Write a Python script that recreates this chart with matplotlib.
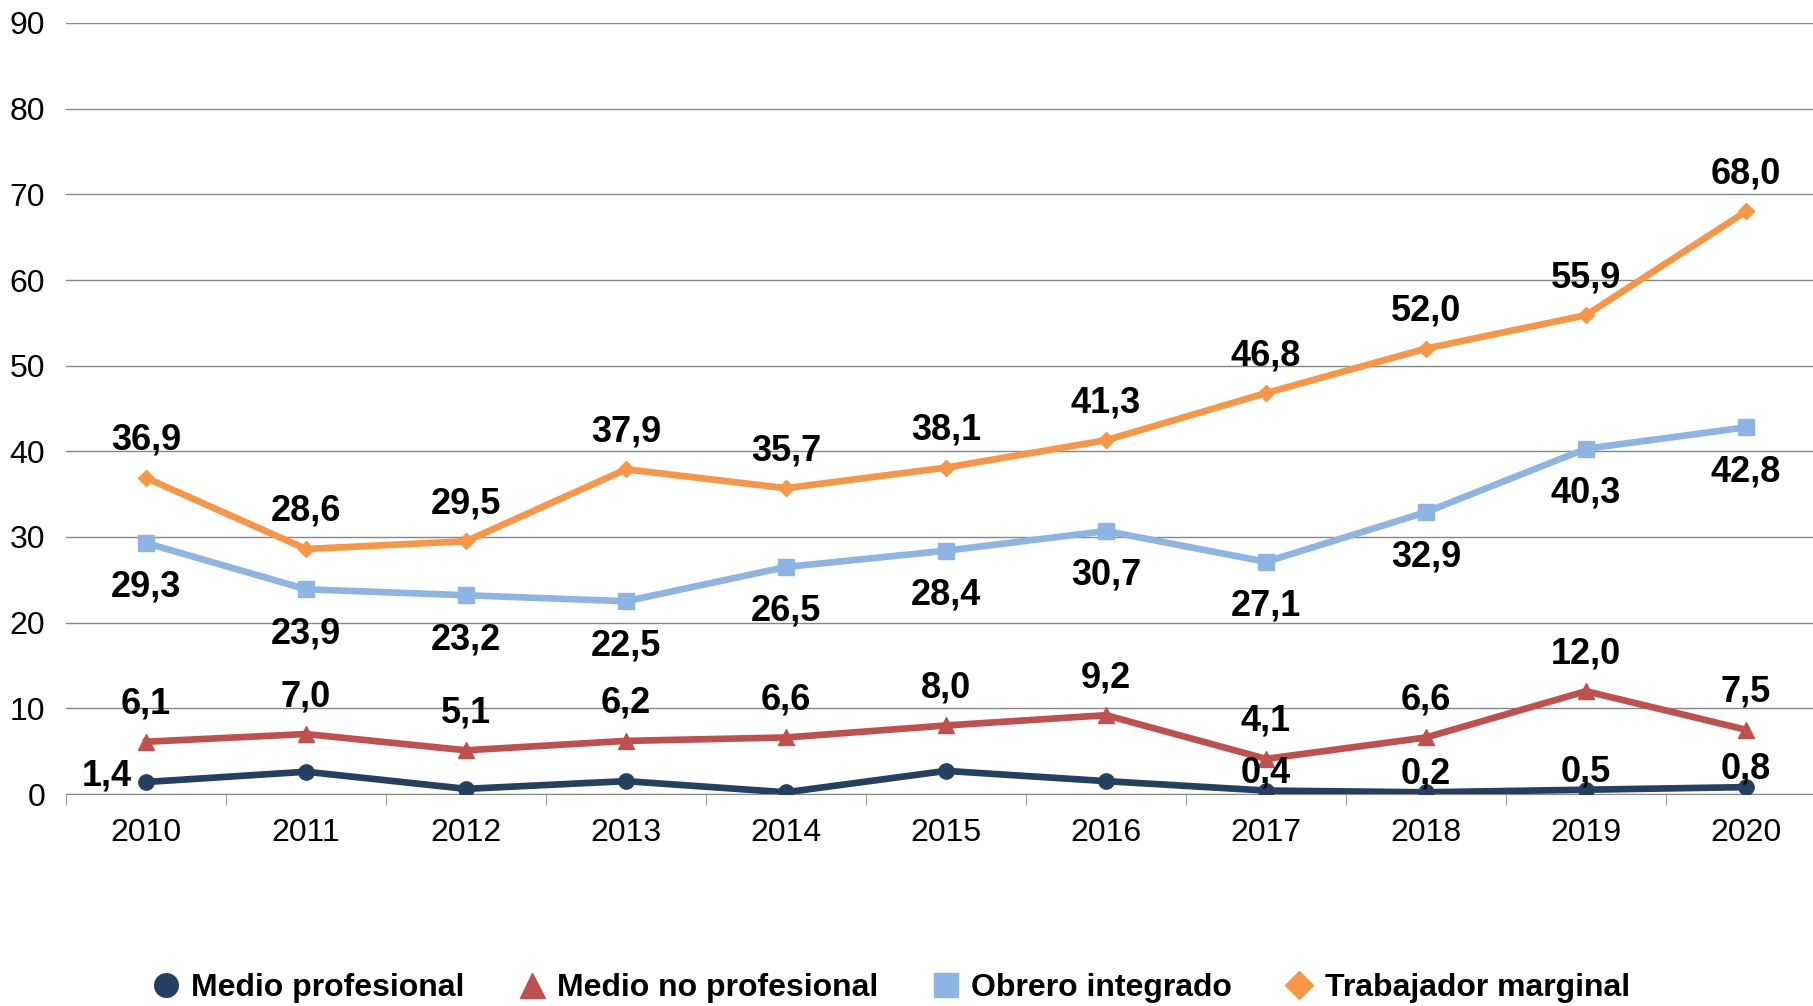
import numpy as np
from matplotlib import pyplot as plt
from matplotlib.lines import Line2D

plt.rcParams["font.family"] = ["Liberation Sans", "DejaVu Sans"]

years = ["2010", "2011", "2012", "2013", "2014", "2015", "2016", "2017", "2018", "2019", "2020"]
medio_prof = [1.4, 2.6, 0.6, 1.5, 0.2, 2.7, 1.5, 0.4, 0.2, 0.5, 0.8]
medio_no_prof = [6.1, 7.0, 5.1, 6.2, 6.6, 8.0, 9.2, 4.1, 6.6, 12.0, 7.5]
obrero = [29.3, 23.9, 23.2, 22.5, 26.5, 28.4, 30.7, 27.1, 32.9, 40.3, 42.8]
marginal = [36.9, 28.6, 29.5, 37.9, 35.7, 38.1, 41.3, 46.8, 52.0, 55.9, 68.0]
# medio profesional only has labels on some points
medio_prof_labeled = [0, 7, 8, 9, 10]

fmt = lambda v: f"{v:.1f}".replace(".", ",")

fig = plt.figure(figsize=(18.13, 10.06), dpi=100)
ax = fig.add_axes([66 / 1813, 212 / 1006, 1760 / 1813, 771 / 1006])
x = np.arange(len(years))

series = [
    ("Medio profesional", medio_prof, "#243F60", "o", 11),
    ("Medio no profesional", medio_no_prof, "#C0504D", "^", 12),
    ("Obrero integrado", obrero, "#8EB4E3", "s", 11),
    ("Trabajador marginal", marginal, "#F79646", "D", 8),
]
for name, vals, color, mk, ms in series:
    ax.plot(x, vals, color=color, lw=4.8, marker=mk, ms=ms, zorder=3)

lab = dict(fontsize=26, fontweight="bold", ha="center", va="center",
           textcoords="offset points", zorder=5)
for i, v in enumerate(marginal):
    ax.annotate(fmt(v), (i, v), xytext=(0, 27), **lab)
for i, v in enumerate(obrero):
    ax.annotate(fmt(v), (i, v), xytext=(0, -32), **lab)
for i, v in enumerate(medio_no_prof):
    ax.annotate(fmt(v), (i, v), xytext=(0, 27), **lab)
for i in medio_prof_labeled:
    off = (-28, 4) if i == 0 else (0, 13)
    ax.annotate(fmt(medio_prof[i]), (i, medio_prof[i]), xytext=off, **lab)

ax.set_xlim(-0.5, 10.5)
ax.set_ylim(0, 90)
ax.set_yticks(range(0, 91, 10))
ax.set_xticks(x)
ax.set_xticklabels(years)
ax.set_xticks(np.arange(-0.5, 11, 1), minor=True)
ax.tick_params(axis="x", which="major", length=0, labelsize=23, pad=17)
ax.tick_params(axis="x", which="minor", length=8, color="#888888", direction="out")
ax.tick_params(axis="y", length=0, labelsize=23, pad=15)
ax.grid(axis="y", color="#888888", lw=1)
ax.set_axisbelow(True)
for s in ["top", "right", "left"]:
    ax.spines[s].set_visible(False)
ax.spines["bottom"].set_color("#888888")

handles = [Line2D([], [], ls="none", marker=mk, color=c, ms=ms + 6)
           for _, _, c, mk, ms in series]
fig.legend(handles, [s[0] for s in series], loc="lower center",
           bbox_to_anchor=(0.49, -0.026), ncol=4, frameon=False,
           prop=dict(size=23, weight="bold"), handletextpad=0.2,
           columnspacing=1.5, handlelength=1.2)

fig.savefig("out.png", dpi=100)
